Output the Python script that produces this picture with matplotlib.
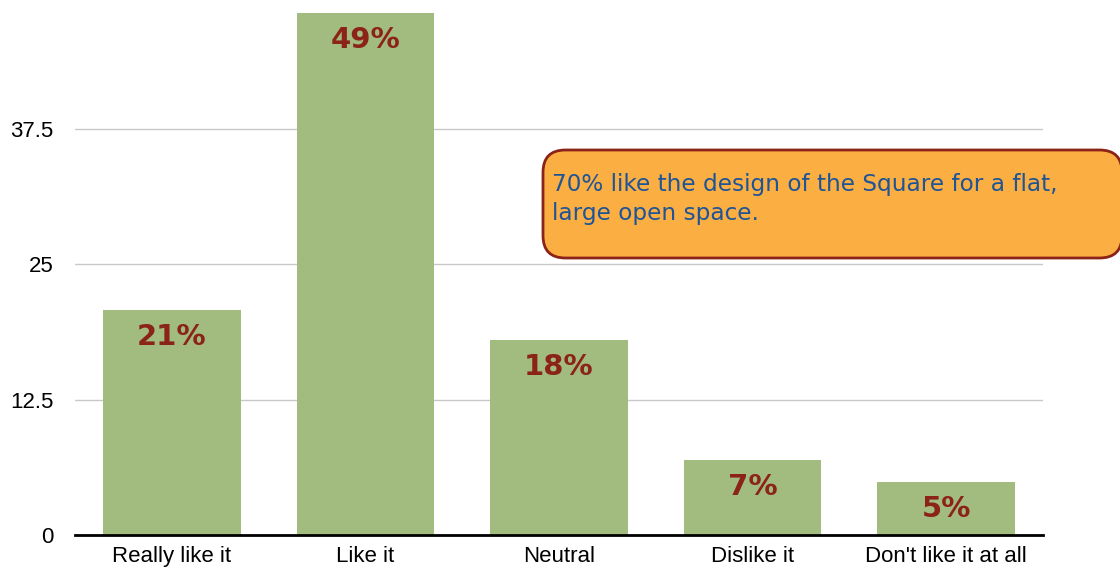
import matplotlib.pyplot as plt
from matplotlib.patches import FancyBboxPatch

categories = ["Really like it", "Like it", "Neutral", "Dislike it", "Don't like it at all"]
values = [20.8, 48.2, 18.0, 6.9, 4.9]
pct_labels = ["21%", "49%", "18%", "7%", "5%"]
yticks = [0, 12.5, 25, 37.5]
ytick_labels = ["0", "12.5", "25", "37.5"]
note = "70% like the design of the Square for a flat,\nlarge open space."

W, H = 1120, 569
fig = plt.figure(figsize=(W / 100, H / 100), dpi=100)
ax = fig.add_axes([75 / W, 1 - 535 / H, (1043 - 75) / W, 535 / H])

x = range(len(categories))
ax.bar(x, values, width=0.71, color="#a2bb7e", zorder=2)
ax.set_xlim(-0.5, len(categories) - 0.5)
ax.set_ylim(0, 535 / 10.827)

for xi, v, lab in zip(x, values, pct_labels):
    ax.annotate(lab, (xi, v), xytext=(0, -25), textcoords="offset points",
                ha="center", va="baseline", fontsize=21, color="#8b2318",
                family="DejaVu Sans", fontweight="bold", zorder=3)

ax.set_yticks(yticks)
ax.set_yticklabels(ytick_labels)
ax.set_xticks(list(x))
ax.set_xticklabels(categories)
ax.tick_params(length=0, labelsize=16)
for t in ax.get_xticklabels() + ax.get_yticklabels():
    t.set_family("Liberation Sans")
ax.tick_params(axis="y", pad=15.5)
ax.tick_params(axis="x", pad=8)
ax.yaxis.grid(True, color="#c8c8c8", linewidth=1, zorder=1)
ax.set_axisbelow(True)
for s in ["top", "right", "left"]:
    ax.spines[s].set_visible(False)
ax.spines["bottom"].set_linewidth(2)
ax.spines["bottom"].set_zorder(4)

# callout box
bx0, by0, bx1, by1 = 543, 150, 1122, 258
box = FancyBboxPatch((bx0 / W, 1 - by1 / H), (bx1 - bx0) / W, (by1 - by0) / H,
                     boxstyle="round,pad=0,rounding_size=0.02",
                     transform=fig.transFigure, facecolor="#fbae42",
                     edgecolor="#8b2318", linewidth=2, zorder=5,
                     mutation_aspect=W / H)
fig.add_artist(box)
# va="baseline" anchors the last line of a multi-line text
fig.text(552 / W, 1 - 220 / H, note, ha="left", va="baseline", fontsize=16.7,
         color="#1f5496", family="DejaVu Sans", linespacing=1.32, zorder=6)

fig.savefig("out.png", dpi=100)
